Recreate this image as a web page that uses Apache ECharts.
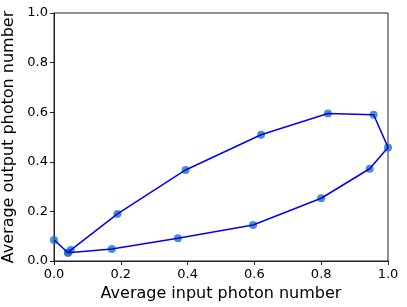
<!DOCTYPE html>
<html><head><meta charset="utf-8">
<script src="https://cdn.jsdelivr.net/npm/echarts@6/dist/echarts.min.js"></script>
<style>html,body{margin:0;padding:0;background:#fff}#c{width:407px;height:307px}</style>
</head><body><div id="c"></div>
<script>
const inputPhoton = [0.0, 0.042, 0.173, 0.371, 0.596, 0.80, 0.945, 1.0, 0.957, 0.82, 0.62, 0.394, 0.19, 0.05, 0.042];
const outputPhoton = [0.085, 0.033, 0.048, 0.092, 0.145, 0.253, 0.372, 0.458, 0.59, 0.595, 0.509, 0.367, 0.19, 0.044, 0.033];
const xTicks = [0, 0.2, 0.4, 0.6, 0.8, 1.0];
const yTicks = [0, 0.2, 0.4, 0.6, 0.8, 1.0];
const xTitle = 'Average input photon number';
const yTitle = 'Average output photon number';

const pts = inputPhoton.map((x, i) => [x, outputPhoton[i]]);
const font = 'DejaVu Sans';
const chart = echarts.init(document.getElementById('c'), null, {renderer: 'canvas'});
const axisCommon = {
  type: 'value', min: 0, max: 1, interval: 0.2,
  axisLine: {show: true, lineStyle: {color: '#222', width: 1}},
  axisTick: {show: true, inside: false, length: 4, lineStyle: {color: '#222'}},
  splitLine: {show: false},
  axisLabel: {color: '#000', fontFamily: font, fontSize: 13, formatter: v => v.toFixed(1)},
  nameLocation: 'middle',
  nameTextStyle: {color: '#000', fontFamily: font, fontSize: 16}
};
chart.setOption({
  animation: false,
  grid: {left: 54, right: 19, top: 13, bottom: 46, show: true, borderColor: '#222', borderWidth: 1,
         containLabel: false, outerBoundsMode: 'none'},
  xAxis: Object.assign({}, axisCommon, {name: xTitle, nameGap: 22,
    axisLabel: Object.assign({}, axisCommon.axisLabel, {margin: 7})}),
  yAxis: Object.assign({}, axisCommon, {name: yTitle, nameGap: 33,
    axisLabel: Object.assign({}, axisCommon.axisLabel, {margin: 6})}),
  series: [
    {type: 'scatter', data: pts, symbolSize: 8, itemStyle: {color: '#1f77b4'}, z: 2},
    {type: 'line', data: pts, showSymbol: false, lineStyle: {color: '#0000ff', width: 1.5}, z: 3}
  ]
});
</script></body></html>
